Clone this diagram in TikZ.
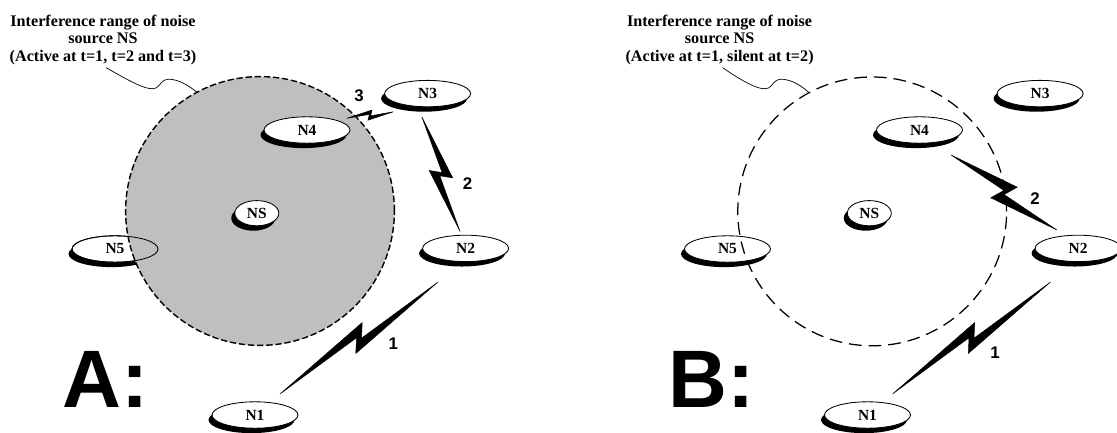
\documentclass[tikz,border=0pt]{standalone}
\usepackage{fontspec}
\setmainfont{Liberation Serif}
\newfontfamily\arialfont{Liberation Sans}
\usetikzlibrary{shapes.geometric}
\usetikzlibrary{shadows}
\usetikzlibrary{calc}

% Blitz zwischen zwei Punkten: Start, Ende, Knickhoehe, innerer Versatz
\newcommand{\bolt}[4]{%
  \filldraw[boltfill] (#1) -- ($(#1)!0.56!(#2)!#3!90:(#2)$)
    -- ($(#1)!0.51!(#2)!#4!-90:(#2)$) -- (#2)
    -- ($(#1)!0.44!(#2)!#3!-90:(#2)$)
    -- ($(#1)!0.49!(#2)!#4!90:(#2)$) -- cycle;}

\tikzset{
  station/.style={ellipse, draw, fill=white, line width=0.6pt, inner sep=0pt,
    minimum width=2.15cm, minimum height=0.66cm,
    font=\fontsize{11}{13}\selectfont\bfseries,
    drop shadow={shadow xshift=-2.5pt, shadow yshift=-3.5pt, fill=black, opacity=1}},
  source/.style={station, minimum width=1.1cm, minimum height=0.63cm},
  caption/.style={align=center, inner sep=0pt, font=\fontsize{11.5}{12.5}\selectfont\bfseries},
  leader/.style={line width=0.5pt},
  rangeA/.style={fill=black!25, draw, line width=1pt, dash pattern=on 4.5pt off 2pt},
  rangeB/.style={draw, line width=0.9pt, dash pattern=on 9pt off 5pt},
  boltfill/.style={fill=black, draw=black, line width=0.3pt},
  linknum/.style={font=\arialfont\bfseries\fontsize{12}{14}\selectfont, inner sep=0pt},
  panel/.style={font=\arialfont\bfseries\fontsize{58}{60}\selectfont, anchor=base west, inner sep=0pt}
}

\begin{document}
\begin{tikzpicture}
  \useasboundingbox (0,0) rectangle (27.925,10.8);

  % N5 liegt unter dem Stoerbereich
  \foreach \p/\dx in {a/0,b/15.3125}
    \node[station] (\p N5) at (2.875+\dx,4.575) {N5};

  % Stoerbereich A
  \coordinate (aC) at (6.5,5.525);
  \coordinate (bC) at (21.805,5.515);
  \draw[rangeA] (aC) circle (3.36);
  \draw[line width=0.6pt] (aN5.center) ellipse [x radius=1.075, y radius=0.33];

  % Knoten
  \foreach \p/\dx in {a/0,b/15.3125}{
    \node[source]  (\p NS) at (6.42+\dx,5.47) {NS};
    \node[station] (\p N4) at (7.675+\dx,7.55) {N4};
    \node[station] (\p N3) at (10.69+\dx,8.46) {N3};
    \node[station] (\p N2) at (11.64+\dx,4.59) {N2};
    \node[station] (\p N1) at (6.375+\dx,0.425) {N1};
  }

  % Stoerbereich B
  \draw[rangeB] (bC) circle (3.36);

  % Beschriftung
  \node[caption] (aTitle) at (2.575,9.8)
    {Interference range of noise\\source NS\\(Active at t=1, t=2 and t=3)};
  \node[caption] (bTitle) at (17.99,9.8)
    {Interference range of noise\\source NS\\(Active at t=1, silent at t=2)};
  \foreach \p/\dx in {a/0,b/15.3125}{
    \coordinate (\p Tail) at ([xshift=0.075cm,yshift=-0.06cm]\p Title.south);
    \coordinate (\p Lead) at ($(\p C)+(118:3.36)$);
    \draw[leader] (\p Tail) .. controls (3.2+\dx,8.8) and (3.7+\dx,8.5) .. (3.9+\dx,8.6)
      .. controls (4.0+\dx,8.65) and (4.05+\dx,8.82) .. (4.2+\dx,8.82)
      .. controls (4.45+\dx,8.82) and (4.7+\dx,8.68) .. (\p Lead);
  }

  % Funkstrecken A
  \coordinate (a1s) at ($(aN1)+(0.625,0.525)$);
  \coordinate (a1e) at ($(aN2)+(-0.69,-0.84)$);
  \coordinate (a2s) at ($(aN3)+(-0.145,-0.58)$);
  \coordinate (a2e) at ($(aN2)+(-0.1375,0.42)$);
  \coordinate (a3s) at ($(aN4)+(0.99,0.29)$);
  \coordinate (a3e) at ($(aN3)+(-0.855,-0.455)$);
  \bolt{a1s}{a1e}{0.27cm}{0.04cm}
  \bolt{a2s}{a2e}{0.25cm}{0.04cm}
  \bolt{a3s}{a3e}{0.12cm}{0.02cm}

  % Funkstrecken B
  \coordinate (b1s) at ($(bN1)+(0.625,0.525)$);
  \coordinate (b1e) at ($(bN2)+(-0.69,-0.84)$);
  \coordinate (b2s) at ($(bN4)+(0.79,-0.625)$);
  \coordinate (b2e) at ($(bN2)+(-0.53,0.46)$);
  \bolt{b1s}{b1e}{0.27cm}{0.04cm}
  \bolt{b2s}{b2e}{0.3cm}{0.04cm}

  \node[linknum] (a3) at (8.975,8.41) {3};
  \node[linknum] (a2) at (11.69,6.2) {2};
  \node[linknum] (a1) at (9.83,2.2) {1};
  \node[linknum] (b2) at (25.875,5.825) {2};
  \node[linknum] (b1) at (24.875,1.99) {1};

  \node[panel] (aLabel) at (1.55,0.6) {A:};
  \node[panel] (bLabel) at (16.7,0.6) {B:};
\end{tikzpicture}
\end{document}
